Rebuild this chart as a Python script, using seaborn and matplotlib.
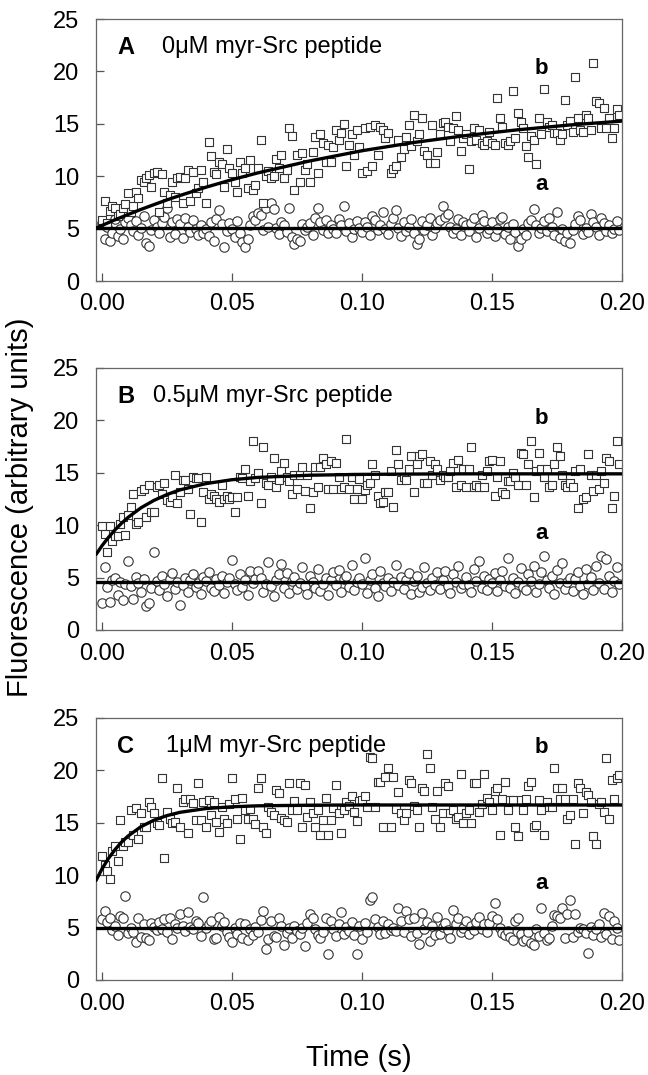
import numpy as np
import pandas as pd
import matplotlib
matplotlib.use("Agg")
import matplotlib.pyplot as plt
import seaborn as sns

sns.set_style("ticks")
plt.rcParams['font.family'] = ['Liberation Sans', 'DejaVu Sans']
plt.rcParams['text.color'] = 'black'
plt.rcParams['xtick.labelcolor'] = 'black'
plt.rcParams['ytick.labelcolor'] = 'black'

# stopped-flow readings: 200 samples, one per ms
n_samples = 200
dt = 0.001

# ---- panel A: 0 uM myr-Src peptide ----
a_0uM = [5.5, 4.0, 5.2, 3.8, 4.6, 5.9, 4.3, 5.0, 4.0, 5.6,
         6.0, 5.3, 4.8, 5.7, 4.4, 5.1, 6.2, 3.6, 3.3, 4.9,
         5.8, 5.2, 4.6, 5.5, 6.1, 7.0, 4.2, 5.6, 4.5, 5.9,
         5.4, 4.1, 6.0, 5.2, 4.7, 5.8, 5.0, 4.4, 5.3, 4.6,
         5.0, 4.3, 5.6, 3.8, 5.9, 6.8, 5.4, 3.2, 4.8, 5.5,
         5.0, 4.2, 5.7, 4.6, 3.7, 3.2, 4.0, 5.3, 6.2, 5.8,
         6.5, 6.3, 4.9, 7.0, 5.2, 7.4, 6.9, 5.1, 4.5, 5.6,
         5.3, 4.7, 7.0, 4.2, 3.5, 4.0, 3.8, 5.4, 4.9, 5.2,
         5.5, 4.4, 6.0, 7.0, 5.6, 4.9, 5.8, 4.6, 5.3, 5.0,
         4.6, 5.9, 5.3, 7.2, 4.8, 5.5, 4.2, 5.0, 5.7, 5.1,
         4.7, 5.6, 5.2, 4.4, 6.2, 5.8, 4.9, 5.3, 6.6, 5.0,
         4.5, 5.4, 6.0, 6.8, 5.1, 4.3, 5.6, 4.8, 5.2, 5.9,
         4.6, 3.5, 4.0, 5.7, 4.9, 5.3, 6.0, 4.4, 5.1, 5.5,
         5.8, 7.2, 6.1, 6.4, 5.2, 4.6, 5.0, 5.9, 4.4, 5.6,
         5.3, 4.8, 5.5, 6.0, 4.2, 5.1, 6.3, 5.7, 4.6, 5.0,
         5.6, 4.3, 5.0, 5.9, 6.1, 4.5, 5.2, 4.0, 5.4, 4.7,
         3.3, 4.0, 5.0, 4.4, 5.5, 5.8, 6.9, 5.3, 4.6, 5.1,
         5.7, 4.8, 6.0, 5.2, 4.4, 6.6, 4.1, 5.0, 3.8, 4.6,
         3.6, 4.9, 5.4, 6.2, 5.8, 4.5, 5.1, 4.7, 6.4, 5.6,
         5.2, 4.4, 6.0, 5.5, 4.8, 5.3, 4.6, 5.0, 5.7, 4.9]
b_0uM = [5.8, 7.6, 5.5, 6.7, 7.2, 7.0, 6.2, 6.4, 7.0, 7.3,
         8.4, 6.6, 7.2, 8.5, 7.9, 9.6, 9.4, 9.8, 10.1, 9.0,
         10.3, 10.4, 6.6, 10.2, 8.5, 7.4, 8.2, 9.4, 8.0, 9.8,
         9.9, 7.4, 9.8, 10.6, 7.6, 10.4, 8.4, 8.9, 10.6, 9.4,
         7.4, 13.3, 11.9, 10.4, 10.2, 11.4, 11.2, 9.0, 12.6, 10.8,
         10.3, 9.4, 8.5, 11.4, 10.3, 10.8, 8.9, 11.5, 8.7, 9.2,
         10.8, 13.5, 7.4, 10.0, 10.5, 9.8, 10.0, 11.6, 10.8, 12.0,
         9.8, 10.6, 14.6, 13.8, 8.7, 12.0, 9.4, 12.2, 10.6, 11.2,
         9.4, 12.3, 13.7, 10.3, 14.0, 13.2, 11.4, 13.0, 11.4, 12.8,
         14.4, 13.5, 14.1, 15.0, 11.0, 13.0, 14.0, 12.0, 14.4, 12.8,
         10.3, 14.6, 10.5, 14.7, 11.0, 14.9, 12.0, 14.7, 14.4, 13.6,
         14.1, 10.3, 10.7, 11.0, 13.5, 11.8, 12.6, 13.7, 14.9, 12.9,
         15.8, 13.4, 14.0, 15.6, 12.4, 12.0, 11.3, 14.9, 11.3, 12.3,
         14.0, 15.1, 15.2, 14.7, 13.4, 14.6, 15.7, 14.4, 12.4, 13.6,
         14.0, 10.7, 13.4, 14.6, 13.5, 14.4, 13.2, 13.0, 13.4, 14.2,
         13.2, 13.0, 17.5, 15.6, 14.7, 13.2, 13.0, 13.4, 18.1, 13.6,
         16.0, 15.2, 14.6, 12.9, 11.8, 13.8, 13.5, 11.2, 15.6, 14.0,
         18.3, 15.2, 14.7, 14.9, 14.1, 14.1, 13.5, 14.0, 17.3, 14.9,
         15.3, 14.2, 19.5, 15.6, 14.4, 14.2, 15.8, 15.6, 14.4, 20.8,
         17.2, 17.0, 14.6, 16.5, 14.6, 15.6, 13.6, 14.6, 16.4, 15.8]

# ---- panel B: 0.5 uM ----
a_05uM = [2.6, 6.0, 4.1, 2.7, 4.8, 5.0, 3.3, 4.6, 2.9, 4.4,
          6.6, 4.2, 3.0, 5.1, 4.5, 3.6, 4.9, 2.3, 2.6, 4.0,
          7.4, 4.7, 3.8, 5.2, 4.4, 3.2, 4.9, 5.4, 3.9, 4.6,
          2.4, 4.3, 5.0, 3.6, 4.8, 5.3, 4.1, 4.5, 3.4, 5.1,
          4.7, 5.5, 4.0, 3.7, 4.9, 4.3, 5.2, 3.5, 4.6, 5.0,
          6.7, 4.4, 3.8, 5.3, 4.1, 4.8, 3.3, 5.6, 4.5, 4.9,
          5.6, 5.0, 3.6, 4.4, 6.5, 4.2, 3.2, 4.8, 5.3, 6.3,
          4.0, 5.4, 3.5, 4.7, 5.1, 3.9, 4.5, 6.0, 4.2, 3.4,
          5.2, 4.6, 4.0, 5.8, 3.7, 4.4, 5.0, 3.3, 4.8, 5.5,
          4.3, 5.7, 3.6, 4.9, 5.2, 4.1, 6.2, 3.8, 4.6, 5.0,
          4.4, 6.9, 3.5, 4.8, 5.3, 4.0, 3.2, 5.6, 4.5, 4.2,
          5.0, 3.7, 4.6, 6.2, 4.3, 5.1, 3.9, 4.8, 5.4, 3.4,
          4.7, 5.2, 3.6, 4.1, 6.0, 4.5, 3.8, 5.0, 4.3, 5.5,
          3.9, 4.8, 5.6, 4.2, 3.5, 5.3, 4.6, 6.1, 4.0, 4.4,
          5.1, 4.3, 3.6, 5.8, 4.7, 6.6, 4.0, 5.2, 3.8, 4.9,
          4.5, 5.4, 3.7, 4.8, 5.6, 4.2, 6.9, 4.0, 5.0, 3.5,
          4.6, 5.9, 4.1, 3.8, 5.3, 4.7, 6.1, 3.6, 4.4, 5.5,
          7.1, 4.8, 4.0, 5.2, 3.4, 5.7, 4.5, 6.4, 3.9, 4.6,
          5.0, 3.7, 4.9, 5.5, 4.2, 3.4, 5.8, 4.4, 5.1, 3.8,
          6.1, 4.5, 7.1, 3.9, 6.8, 5.2, 3.6, 4.7, 6.0, 4.4]
b_05uM = [9.9, 9.2, 7.4, 9.9, 8.5, 9.0, 9.0, 10.1, 10.8, 9.1,
          11.0, 11.7, 13.0, 10.1, 10.3, 13.3, 13.5, 10.8, 13.8, 11.3,
          11.3, 13.6, 13.8, 13.0, 14.0, 12.4, 12.2, 12.7, 14.8, 12.1,
          13.2, 14.3, 14.3, 13.5, 11.1, 14.6, 14.5, 14.5, 10.3, 13.2,
          14.6, 12.5, 13.0, 12.8, 12.5, 12.2, 13.8, 12.5, 12.8, 12.5,
          12.7, 11.3, 12.7, 14.6, 14.5, 15.4, 12.8, 14.2, 18.0, 14.5,
          15.0, 12.1, 17.5, 14.0, 13.8, 14.6, 16.4, 13.6, 14.3, 15.2,
          15.9, 14.6, 14.2, 13.0, 14.8, 13.5, 14.8, 15.6, 13.3, 14.8,
          11.6, 13.2, 15.6, 13.6, 15.6, 16.4, 15.8, 13.5, 16.1, 13.5,
          15.9, 14.6, 13.5, 13.6, 18.2, 13.5, 14.6, 12.5, 13.5, 14.4,
          12.5, 13.4, 13.8, 14.0, 15.8, 14.8, 12.8, 12.1, 12.2, 13.2,
          13.2, 15.2, 11.7, 17.2, 15.8, 14.3, 14.6, 14.3, 15.4, 16.6,
          13.2, 15.8, 16.6, 16.8, 14.0, 14.0, 16.1, 14.8, 15.8, 15.4,
          14.3, 14.8, 14.6, 14.6, 15.2, 15.9, 13.6, 16.2, 13.8, 15.4,
          13.6, 15.4, 17.5, 13.6, 13.8, 13.6, 14.8, 13.6, 15.2, 16.1,
          16.2, 12.8, 14.6, 16.1, 13.2, 13.0, 14.2, 14.2, 15.0, 14.6,
          13.8, 16.9, 16.8, 13.8, 15.8, 18.0, 12.7, 15.2, 16.9, 15.4,
          14.6, 15.4, 13.6, 13.8, 15.8, 17.5, 16.6, 14.8, 13.8, 13.6,
          14.0, 13.6, 15.2, 11.6, 15.4, 12.5, 12.7, 16.8, 14.8, 13.3,
          14.8, 13.5, 15.2, 14.0, 16.4, 16.1, 11.6, 12.8, 18.0, 15.8]

# ---- panel C: 1 uM ----
a_1uM = [5.8, 6.6, 5.5, 5.9, 4.8, 5.2, 4.3, 6.1, 5.9, 8.0,
         4.5, 5.0, 4.6, 3.6, 5.9, 4.1, 5.3, 4.0, 3.8, 5.4,
         5.1, 4.8, 5.5, 4.9, 5.8, 4.6, 5.9, 3.9, 5.3, 5.0,
         6.3, 5.2, 4.7, 6.5, 5.1, 4.9, 5.6, 5.4, 4.2, 7.9,
         5.0, 5.3, 5.6, 3.9, 4.0, 6.0, 5.2, 5.5, 4.6, 4.1,
         3.6, 5.0, 4.4, 5.4, 4.0, 5.3, 3.8, 4.9, 4.3, 5.1,
         4.6, 5.7, 6.6, 3.0, 3.9, 5.6, 4.2, 4.1, 5.9, 5.2,
         3.3, 4.5, 5.0, 4.0, 5.2, 4.7, 4.4, 5.0, 3.2, 5.4,
         6.3, 5.9, 4.9, 4.3, 4.0, 4.6, 5.9, 2.5, 5.6, 4.9,
         4.2, 5.3, 6.5, 4.4, 5.1, 4.7, 5.5, 4.3, 2.5, 5.2,
         3.9, 5.4, 4.6, 7.6, 7.9, 5.8, 5.1, 4.4, 5.6, 4.5,
         5.3, 4.8, 5.0, 4.7, 6.9, 5.6, 4.6, 6.6, 5.8, 4.2,
         5.9, 4.5, 3.4, 6.4, 4.9, 5.5, 3.7, 5.2, 4.3, 6.0,
         4.4, 5.1, 5.4, 4.8, 4.0, 6.7, 5.3, 5.9, 4.6, 5.0,
         5.6, 4.4, 5.2, 4.8, 5.5, 6.0, 4.9, 5.3, 4.6, 5.4,
         6.1, 7.3, 5.8, 5.0, 4.5, 4.3, 4.7, 4.1, 3.8, 5.6,
         5.9, 4.4, 3.7, 3.9, 4.6, 3.5, 3.3, 4.9, 4.2, 6.9,
         4.5, 3.8, 4.0, 5.2, 6.2, 6.1, 5.9, 6.9, 4.0, 6.3,
         7.6, 4.1, 6.3, 4.6, 5.0, 4.9, 4.5, 2.6, 5.1, 4.3,
         4.9, 5.3, 4.1, 6.4, 4.4, 6.1, 3.9, 5.6, 5.0, 3.8]
b_1uM = [11.8, 11.0, 10.4, 9.6, 12.3, 12.8, 11.4, 15.3, 12.8, 13.2,
         13.2, 16.2, 13.8, 16.4, 13.5, 15.9, 14.6, 14.6, 17.0, 16.5,
         15.9, 15.0, 14.8, 19.3, 11.6, 16.0, 15.4, 15.0, 15.1, 18.3,
         14.6, 17.0, 17.3, 14.0, 17.3, 16.9, 15.3, 18.8, 15.3, 17.0,
         14.6, 17.2, 15.7, 17.0, 15.1, 14.1, 16.5, 15.4, 15.0, 16.8,
         19.3, 17.3, 15.4, 13.5, 17.4, 16.2, 15.4, 16.3, 15.4, 14.9,
         18.3, 19.3, 14.6, 14.0, 16.5, 16.0, 15.7, 18.1, 17.8, 15.5,
         15.3, 15.1, 18.8, 16.2, 17.1, 16.2, 18.8, 14.6, 18.6, 15.6,
         17.0, 15.9, 14.6, 16.2, 13.8, 15.3, 17.4, 13.8, 15.3, 16.4,
         18.6, 15.9, 14.0, 16.2, 17.0, 16.6, 17.6, 16.0, 15.2, 17.1,
         17.2, 17.6, 16.5, 21.3, 21.2, 16.5, 18.9, 18.9, 14.6, 19.4,
         20.2, 14.6, 19.4, 16.3, 17.9, 15.9, 15.3, 15.9, 19.1, 18.8,
         16.6, 16.2, 14.6, 18.3, 18.0, 21.6, 20.2, 16.5, 15.4, 18.0,
         14.6, 15.9, 18.8, 18.5, 15.9, 16.2, 15.4, 15.6, 19.7, 15.0,
         15.9, 16.2, 15.0, 18.8, 18.8, 16.0, 16.8, 19.7, 17.4, 17.0,
         16.2, 18.0, 18.3, 13.8, 17.3, 18.9, 16.2, 17.2, 17.2, 14.6,
         13.7, 17.2, 16.2, 17.3, 18.5, 18.9, 14.6, 14.8, 17.2, 16.2,
         13.8, 17.0, 16.5, 16.5, 20.2, 18.3, 17.3, 18.3, 17.3, 15.4,
         15.7, 17.3, 13.0, 18.8, 18.3, 15.9, 17.9, 17.7, 17.0, 13.7,
         13.0, 16.8, 17.0, 16.0, 21.2, 15.4, 19.1, 17.3, 19.3, 19.6]

# fitted curves
fit_t = [-0.0023, 0.0, 0.0025, 0.005, 0.0075, 0.01, 0.015, 0.02, 0.025,
         0.03, 0.04, 0.05, 0.06, 0.08, 0.10, 0.12, 0.14, 0.16, 0.18, 0.20]
fit_b_0uM = [5.05, 5.30, 5.57, 5.84, 6.09, 6.34, 6.83, 7.29, 7.74,
             8.16, 8.95, 9.67, 10.32, 11.46, 12.43, 13.22, 13.88, 14.43, 14.89, 15.26]
fit_b_05uM = [7.2, 8.04, 8.84, 9.55, 10.18, 10.74, 11.66, 12.37, 12.93,
              13.37, 13.97, 14.34, 14.56, 14.77, 14.85, 14.88, 14.9, 14.9, 14.9, 14.9]
fit_b_1uM = [9.5, 10.6, 11.6, 12.44, 13.15, 13.73, 14.63, 15.25, 15.69,
             16.0, 16.36, 16.53, 16.62, 16.68, 16.7, 16.7, 16.7, 16.7, 16.7, 16.7]
level_a = [5.05, 4.6, 5.0]

panel_letters = ['A', 'B', 'C']
panel_titles = ['0\u03bcM myr-Src peptide', '0.5\u03bcM myr-Src peptide',
                '1\u03bcM myr-Src peptide']
title_x = [0.0231, 0.0196, 0.0246]
b_label_y = [20.3, 20.2, 22.2]

W, H = 648, 1075
fig = plt.figure(figsize=(W / 100, H / 100), dpi=100)

# axes boxes in pixels (top, bottom)
boxes = [(19, 281), (368, 630), (718, 980)]
left_px, right_px = 96, 622

t = np.arange(n_samples) * dt
a_series = [a_0uM, a_05uM, a_1uM]
b_series = [b_0uM, b_05uM, b_1uM]
fits = [fit_b_0uM, fit_b_05uM, fit_b_1uM]

edge = '#333333'
for i, (top, bot) in enumerate(boxes):
    ax = fig.add_axes([left_px / W, (H - bot) / H,
                       (right_px - left_px) / W, (bot - top) / H])
    df = pd.DataFrame({'t': t, 'a': a_series[i], 'b': b_series[i]})

    sns.scatterplot(data=df, x='t', y='a', ax=ax, marker='o', s=46,
                    facecolor='white', edgecolor=edge, linewidth=0.8,
                    zorder=2)
    sns.scatterplot(data=df, x='t', y='b', ax=ax, marker='s', s=34,
                    facecolor='white', edgecolor=edge, linewidth=0.8,
                    zorder=2)

    fit_df = pd.DataFrame({'t': fit_t, 'y': fits[i]})
    sns.lineplot(data=fit_df, x='t', y='y', ax=ax, color='black',
                 linewidth=2.4, zorder=3)
    flat_df = pd.DataFrame({'t': [fit_t[0], fit_t[-1]],
                            'y': [level_a[i], level_a[i]]})
    sns.lineplot(data=flat_df, x='t', y='y', ax=ax, color='black',
                 linewidth=2.4, zorder=3)

    ax.set_xlim(-0.0023, 0.2)
    ax.set_ylim(0, 25)
    ax.set_xticks([0.0, 0.05, 0.10, 0.15, 0.20])
    ax.set_xticklabels(['0.00', '0.05', '0.10', '0.15', '0.20'])
    ax.set_yticks([0, 5, 10, 15, 20, 25])
    ax.tick_params(direction='in', length=6, width=0.9, color='#555555',
                   labelsize=17, pad=9, labelcolor='black')
    ax.tick_params(axis='y', pad=12)
    for sp in ax.spines.values():
        sp.set_color('#666666')
        sp.set_linewidth(0.9)
    ax.set_xlabel('')
    ax.set_ylabel('')

    ax.text(0.0058, 22.3, panel_letters[i], fontsize=17, fontweight='bold',
            va='center', ha='left', color='black')
    ax.text(title_x[i], 22.3, panel_titles[i], fontsize=17,
            va='center', ha='left', color='black')
    ax.text(0.169, b_label_y[i], 'b', fontsize=16, fontweight='bold',
            ha='center', va='center', color='black')
    ax.text(0.169, 9.2, 'a', fontsize=16, fontweight='bold',
            ha='center', va='center', color='black')

fig.text(20 / W, 1 - 507 / H, 'Fluorescence (arbitrary units)', fontsize=21,
         rotation=90, ha='center', va='center', color='black')
fig.text((left_px + right_px) / 2 / W, 1 - 1058 / H, 'Time (s)', fontsize=21,
         ha='center', va='center', color='black')

fig.savefig('out.png', dpi=100)
